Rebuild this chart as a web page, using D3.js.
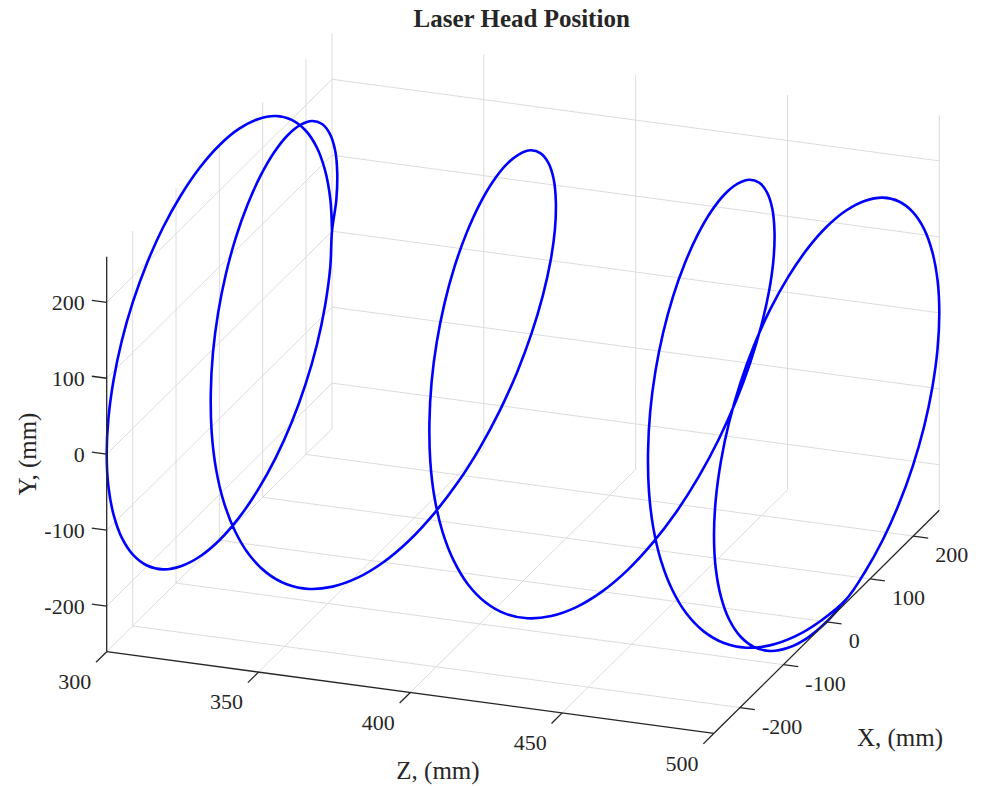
<!DOCTYPE html>
<html><head><meta charset="utf-8">
<script src="https://cdn.jsdelivr.net/npm/d3@7"></script>
<style>
body{margin:0;background:#fff}
svg{display:block}
text{font-family:"Liberation Serif","Times New Roman",serif;fill:#262626}
</style>
</head><body>
<svg id="chart" width="983" height="786"></svg>
<script>
// ---------------- data ----------------
const titleText = "Laser Head Position";
const xLabel = "X, (mm)", yLabel = "Y, (mm)", zLabel = "Z, (mm)";
const xTicks = [-200, -100, 0, 100, 200];
const yTicks = [-200, -100, 0, 100, 200];
const zTicks = [300, 350, 400, 450, 500];
const xDomain = [-260, 260];
const yDomain = [-260, 260];
const zDomain = [300, 500];

// lead-in circle at Z = 300
const leadInX = [260,256,244,225,199,167,130,89,45,0,-45,-89,-130,-167,-199,-225,-244,-256,-260,-256,-244,-225,-199,-167,-130,-89,-45,0,45,89,130,167,199,225,244,256,260];
const leadInY = [0,45,89,130,167,199,225,244,256,260,256,244,225,199,167,130,89,45,0,-45,-89,-130,-167,-199,-225,-244,-256,-260,-256,-244,-225,-199,-167,-130,-89,-45,0];
const leadInZ = [300,300,300,300,300,300,300,300,300,300,300,300,300,300,300,300,300,300,300,300,300,300,300,300,300,300,300,300,300,300,300,300,300,300,300,300,300];

// helix from Z = 300 to Z = 500
const helixX = [260,256,244,225,199,167,130,89,45,0,-45,-89,-130,-167,-199,-225,-244,-256,-260,-256,-244,-225,-199,-167,-130,-89,-45,0,45,89,130,167,199,225,244,256,
  260,256,244,225,199,167,130,89,45,0,-45,-89,-130,-167,-199,-225,-244,-256,-260,-256,-244,-225,-199,-167,-130,-89,-45,0,45,89,130,167,199,225,244,256,
  260,256,244,225,199,167,130,89,45,0,-45,-89,-130,-167,-199,-225,-244,-256,-260,-256,-244,-225,-199,-167,-130,-89,-45,0,45];
const helixY = [0,45,89,130,167,199,225,244,256,260,256,244,225,199,167,130,89,45,0,-45,-89,-130,-167,-199,-225,-244,-256,-260,-256,-244,-225,-199,-167,-130,-89,-45,
  0,45,89,130,167,199,225,244,256,260,256,244,225,199,167,130,89,45,0,-45,-89,-130,-167,-199,-225,-244,-256,-260,-256,-244,-225,-199,-167,-130,-89,-45,
  0,45,89,130,167,199,225,244,256,260,256,244,225,199,167,130,89,45,0,-45,-89,-130,-167,-199,-225,-244,-256,-260,-256];
const helixZ = [300,302,304,306,308,310,312,314,316,318,320,322,324,326,328,330,332,334,336,338,340,342,344,346,348,350,
  352,354,356,358,360,362,364,366,368,370,372,374,376,378,380,382,384,386,388,390,392,394,396,398,400,
  402,404,406,408,410,412,414,416,418,420,422,424,426,428,430,432,434,436,438,440,442,444,446,448,450,
  452,454,456,458,460,462,464,466,468,470,472,474,476,478,480,482,484,486,488,490,492,494,496,498,500];

// lead-out circle at Z = 500
const leadOutX = [45,89,130,167,199,225,244,256,260,256,244,225,199,167,130,89,45,0,-45,-89,-130,-167,-199,-225,-244,-256,-260,-256,-244,-225,-199,-167,-130,-89,-45,0,45];
const leadOutY = [-256,-244,-225,-199,-167,-130,-89,-45,0,45,89,130,167,199,225,244,256,260,256,244,225,199,167,130,89,45,0,-45,-89,-130,-167,-199,-225,-244,-256,-260,-256];
const leadOutZ = [500,500,500,500,500,500,500,500,500,500,500,500,500,500,500,500,500,500,500,500,500,500,500,500,500,500,500,500,500,500,500,500,500,500,500,500,500];

// ---------------- layout ----------------
const W = 983, H = 786;
const origin = [106.7, 651.7];          // (xmin, ymin, zmin) corner on screen
const vecX = [225.3, -223.0];           // full X range direction
const vecY = [0, -395.0];               // full Y range direction
const vecZ = [607.3, 81.6];             // full Z range direction
const tickLen = 15;
const gridColor = "#dcdcdc";
const axisColor = "#262626";

const xs = d3.scaleLinear().domain(xDomain).range([0, 1]);
const ys = d3.scaleLinear().domain(yDomain).range([0, 1]);
const zs = d3.scaleLinear().domain(zDomain).range([0, 1]);

function P(x, y, z) {
  const u = xs(x), v = ys(y), w = zs(z);
  return [origin[0] + u*vecX[0] + v*vecY[0] + w*vecZ[0],
          origin[1] + u*vecX[1] + v*vecY[1] + w*vecZ[1]];
}
function unit(v){ const L = Math.hypot(v[0], v[1]); return [v[0]/L, v[1]/L]; }

const svg = d3.select("#chart");
const [x0, x1] = xDomain, [y0, y1] = yDomain, [z0, z1] = zDomain;

// ---------------- grid ----------------
const gridSegs = [];
zTicks.forEach(z => gridSegs.push([P(x1, y0, z), P(x1, y1, z)]));
yTicks.forEach(y => gridSegs.push([P(x1, y, z0), P(x1, y, z1)]));
xTicks.forEach(x => gridSegs.push([P(x, y0, z0), P(x, y1, z0)]));
yTicks.forEach(y => gridSegs.push([P(x0, y, z0), P(x1, y, z0)]));
xTicks.forEach(x => gridSegs.push([P(x, y0, z0), P(x, y0, z1)]));
zTicks.forEach(z => gridSegs.push([P(x0, y0, z), P(x1, y0, z)]));

svg.append("g").selectAll("line").data(gridSegs).join("line")
  .attr("x1", d => d[0][0]).attr("y1", d => d[0][1])
  .attr("x2", d => d[1][0]).attr("y2", d => d[1][1])
  .attr("stroke", gridColor).attr("stroke-width", 1);

// ---------------- curve ----------------
const pts = [];
function addSeg(X, Y, Z, skipFirst) {
  for (let i = skipFirst ? 1 : 0; i < X.length; i++) pts.push(P(X[i], Y[i], Z[i]));
}
addSeg(leadInX, leadInY, leadInZ, false);
addSeg(helixX, helixY, helixZ, true);
addSeg(leadOutX, leadOutY, leadOutZ, true);

svg.append("path")
  .attr("d", d3.line().curve(d3.curveCatmullRom.alpha(0.5))(pts))
  .attr("fill", "none").attr("stroke", "#0000ff").attr("stroke-width", 2.6)
  .attr("stroke-linejoin", "round");

// ---------------- axes ----------------
const ax = svg.append("g").attr("stroke", axisColor).attr("stroke-width", 1.3).attr("fill", "none");
const A = P(x0, y0, z0), B = P(x0, y0, z1);
ax.append("line").attr("x1", A[0]).attr("y1", A[1]).attr("x2", P(x0, y1, z0)[0]).attr("y2", P(x0, y1, z0)[1]);
ax.append("line").attr("x1", A[0]).attr("y1", A[1]).attr("x2", B[0]).attr("y2", B[1]);
ax.append("line").attr("x1", B[0]).attr("y1", B[1]).attr("x2", P(x1, y0, z1)[0]).attr("y2", P(x1, y0, z1)[1]);

const dZ = unit(vecZ), dX = unit(vecX);
// Y ticks (point toward -Z)
yTicks.forEach(y => {
  const p = P(x0, y, z0);
  ax.append("line").attr("x1", p[0]).attr("y1", p[1])
    .attr("x2", p[0] - dZ[0]*tickLen).attr("y2", p[1] - dZ[1]*tickLen);
});
// Z ticks (point toward -X)
zTicks.forEach(z => {
  const p = P(x0, y0, z);
  ax.append("line").attr("x1", p[0]).attr("y1", p[1])
    .attr("x2", p[0] - dX[0]*tickLen).attr("y2", p[1] - dX[1]*tickLen);
});
// X ticks (point toward +Z)
xTicks.forEach(x => {
  const p = P(x, y0, z1);
  ax.append("line").attr("x1", p[0]).attr("y1", p[1])
    .attr("x2", p[0] + dZ[0]*tickLen).attr("y2", p[1] + dZ[1]*tickLen);
});

// tick labels
const tickFont = 22;
const lab = svg.append("g").attr("font-size", tickFont);
yTicks.forEach(y => {
  const p = P(x0, y, z0);
  lab.append("text").attr("x", p[0] - 22).attr("y", p[1]).attr("dy", "0.35em")
    .attr("text-anchor", "end").text(y);
});
zTicks.forEach(z => {
  const p = P(x0, y0, z);
  lab.append("text").attr("x", p[0] - 32).attr("y", p[1] + 29.5).attr("dy", "0.35em")
    .attr("text-anchor", "middle").text(z);
});
xTicks.forEach(x => {
  const p = P(x, y0, z1);
  lab.append("text").attr("x", p[0] + 22).attr("y", p[1] + 18.3).attr("dy", "0.35em")
    .attr("text-anchor", "start").text(x);
});

// axis labels
const labFont = 25;
svg.append("text").attr("x", 438).attr("y", 770).attr("dy", "0.35em")
  .attr("text-anchor", "middle").attr("font-size", labFont).text(zLabel);
svg.append("text").attr("x", 900).attr("y", 737).attr("dy", "0.35em")
  .attr("text-anchor", "middle").attr("font-size", labFont).text(xLabel);
svg.append("text").attr("transform", "translate(27,454) rotate(-90)").attr("dy", "0.35em")
  .attr("text-anchor", "middle").attr("font-size", labFont).text(yLabel);

// title
svg.append("text").attr("x", 521.7).attr("y", 26.5)
  .attr("text-anchor", "middle").attr("font-size", 25).attr("font-weight", "bold")
  .attr("fill", "#000").text(titleText);
</script>
</body></html>
